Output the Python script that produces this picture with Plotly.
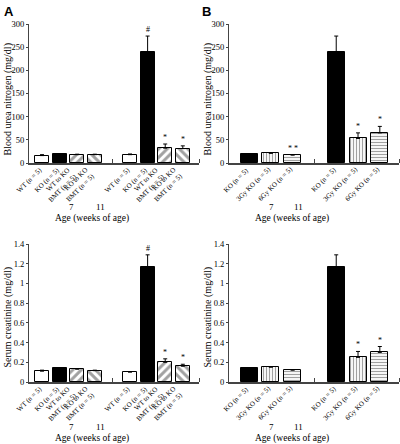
import plotly.graph_objects as go

# ---------------- data ----------------
labels_A = ["WT (n = 5)", "KO (n = 5)", "WT to KO<br>BMT (n = 5)", "KO to KO<br>BMT (n = 5)"]
labels_B = ["KO (n = 5)", "3Gy KO (n = 5)", "6Gy KO (n = 5)"]
weeks = ["7", "11"]

bun_A = [16, 19, 18, 18, 18, 240, 32, 31]
bun_A_err = [2, 1, 1, 1, 1.5, 34, 9, 6]
bun_A_sig = ["", "", "", "", "", "#", "*", "*"]

cre_A = [0.11, 0.14, 0.13, 0.115, 0.10, 1.17, 0.20, 0.16]
cre_A_err = [0.01, 0.005, 0.005, 0.005, 0.005, 0.12, 0.035, 0.02]
cre_A_sig = ["", "", "", "", "", "#", "*", "*"]

bun_B = [19, 21, 17, 240, 53, 65]
bun_B_err = [0.5, 0.5, 1, 34, 12, 14]
bun_B_sig = ["", "", "* *", "", "*", "*"]

cre_B = [0.14, 0.15, 0.12, 1.17, 0.25, 0.30]
cre_B_err = [0.005, 0.005, 0.005, 0.12, 0.06, 0.06]
cre_B_sig = ["", "", "", "", "*", "*"]

title_bun = "Blood urea nitrogen (mg/dl)"
title_cre = "Serum creatinine (mg/dl)"
title_age = "Age (weeks of age)"

# styles per group member
fill_A = ["white", "black", "white", "white"]
pat_A = ["", "", "/", "\\"]
psize_A = [6, 6, 6, 6]
psol_A = [0.5, 0.5, 0.5, 0.5]
fill_B = ["black", "white", "white"]
pat_B = ["", "|", "-"]
psize_B = [3, 3, 3]
psol_B = [0.4, 0.4, 0.4]

SERIF = "Liberation Serif"
AX = "#444"

fig = go.Figure()


def positions(n):
    # two groups with a gap slot between them
    return [g * (n + 1) + i for g in range(2) for i in range(n)]


def add_panel(vals, errs, sigs, labels, fills, pats, psize, psol, xa, ya, width):
    n = len(labels)
    xs = positions(n)
    fig.add_trace(go.Bar(
        x=xs, y=vals, width=width,
        marker=dict(color=fills * 2, line=dict(color="black", width=1),
                    pattern=dict(shape=pats * 2, fgcolor="black", bgcolor="white",
                                 size=psize * 2, solidity=psol * 2)),
        error_y=dict(type="data", symmetric=False, array=errs,
                     arrayminus=[0] * len(errs), color="black", thickness=1, width=2),
        xaxis=xa, yaxis=ya, showlegend=False, hoverinfo="skip",
    ))
    for x, v, e, s in zip(xs, vals, errs, sigs):
        if s:
            fig.add_annotation(x=x, y=v + e, xref=xa, yref=ya, text=s, showarrow=False,
                               xanchor="center", yanchor="bottom", yshift=0,
                               font=dict(family=SERIF, size=8, color="black"))
    # rotated category labels under each bar
    for x, lab in zip(xs, labels * 2):
        fig.add_annotation(x=x, y=0, xref=xa, yref=ya, text=lab, showarrow=False,
                           textangle=-45, xanchor="right", yanchor="top", align="right",
                           xshift=3, yshift=-1, borderpad=0,
                           font=dict(family=SERIF, size=7, color="black"))
    return xs


xs_A = add_panel(bun_A, bun_A_err, bun_A_sig, labels_A, fill_A, pat_A, psize_A, psol_A, "x", "y", 0.8)
add_panel(cre_A, cre_A_err, cre_A_sig, labels_A, fill_A, pat_A, psize_A, psol_A, "x3", "y3", 0.8)
xs_B = add_panel(bun_B, bun_B_err, bun_B_sig, labels_B, fill_B, pat_B, psize_B, psol_B, "x2", "y2", 0.78)
add_panel(cre_B, cre_B_err, cre_B_sig, labels_B, fill_B, pat_B, psize_B, psol_B, "x4", "y4", 0.78)

W, H = 400, 444
dom_xA = [29 / W, 199 / W]
dom_xB = [229 / W, 399 / W]
dom_yT = [1 - 163 / H, 1 - 24 / H]
dom_yB = [1 - 382 / H, 1 - 244 / H]

rng_A = [-0.74, 8.92]
rng_B = [-0.92, 6.88]


def xaxis(dom, anchor, rng, gap):
    return dict(domain=dom, anchor=anchor, range=rng, showline=True, linecolor=AX,
                linewidth=1.5, showgrid=False, zeroline=False, automargin=False,
                showticklabels=False, ticks="",
                minor=dict(tickvals=[gap, rng[1]], ticks="inside", ticklen=4,
                           tickcolor=AX, tickwidth=1, showgrid=False))


def yaxis(dom, anchor, rng, tv, tt):
    return dict(domain=dom, anchor=anchor, range=rng, showline=True, linecolor=AX,
                linewidth=1, showgrid=False, zeroline=False, tickvals=tv, ticktext=tt,
                ticks="outside", ticklen=2, tickcolor=AX, automargin=False,
                tickfont=dict(family=SERIF, size=8.5, color="black"))


bun_ticks = [0, 50, 100, 150, 200, 250, 300]
cre_ticks = [0, 0.2, 0.4, 0.6, 0.8, 1, 1.2, 1.4]
cre_text = ["0", "0.2", "0.4", "0.6", "0.8", "1", "1.2", "1.4"]

fig.update_layout(
    width=W, height=H, margin=dict(l=0, r=0, t=0, b=0),
    plot_bgcolor="white", paper_bgcolor="white", bargap=0,
    xaxis=xaxis(dom_xA, "y", rng_A, 4),
    xaxis3=xaxis(dom_xA, "y3", rng_A, 4),
    xaxis2=xaxis(dom_xB, "y2", rng_B, 3),
    xaxis4=xaxis(dom_xB, "y4", rng_B, 3),
    yaxis=yaxis(dom_yT, "x", [0, 300], bun_ticks, [str(t) for t in bun_ticks]),
    yaxis2=yaxis(dom_yT, "x2", [0, 300], bun_ticks, [str(t) for t in bun_ticks]),
    yaxis3=yaxis(dom_yB, "x3", [0, 1.4], cre_ticks, cre_text),
    yaxis4=yaxis(dom_yB, "x4", [0, 1.4], cre_ticks, cre_text),
)


def paper_text(px, py, text, size, angle=0, family=SERIF, xanchor="center", yanchor="middle"):
    fig.add_annotation(x=px / W, y=1 - py / H, xref="paper", yref="paper", text=text,
                       textangle=angle, showarrow=False, borderpad=0,
                       xanchor=xanchor, yanchor=yanchor,
                       font=dict(family=family, size=size, color="black"))


# y-axis titles (rotated)
for px in (7.5, 207.5):
    paper_text(px, 100, title_bun, 10, angle=-90)
    paper_text(px, 317, title_cre, 10, angle=-90)

# group labels and x titles
for (x7, x11, xt) in [(71, 100, 92), (271, 298, 292)]:
    for yy, ya in [(207, 218), (427, 438)]:
        paper_text(x7, yy, weeks[0], 9)
        paper_text(x11, yy, weeks[1], 9)
        paper_text(xt, ya, title_age, 9.5)

for letter, px in [("A", 3), ("B", 201)]:
    paper_text(px, 3, "<b>" + letter + "</b>", 13, family="Liberation Sans",
               xanchor="left", yanchor="top")

fig.write_html("out.html", config={"displayModeBar": False},
               post_script="document.body.style.margin='0';document.body.style.padding='0';")
